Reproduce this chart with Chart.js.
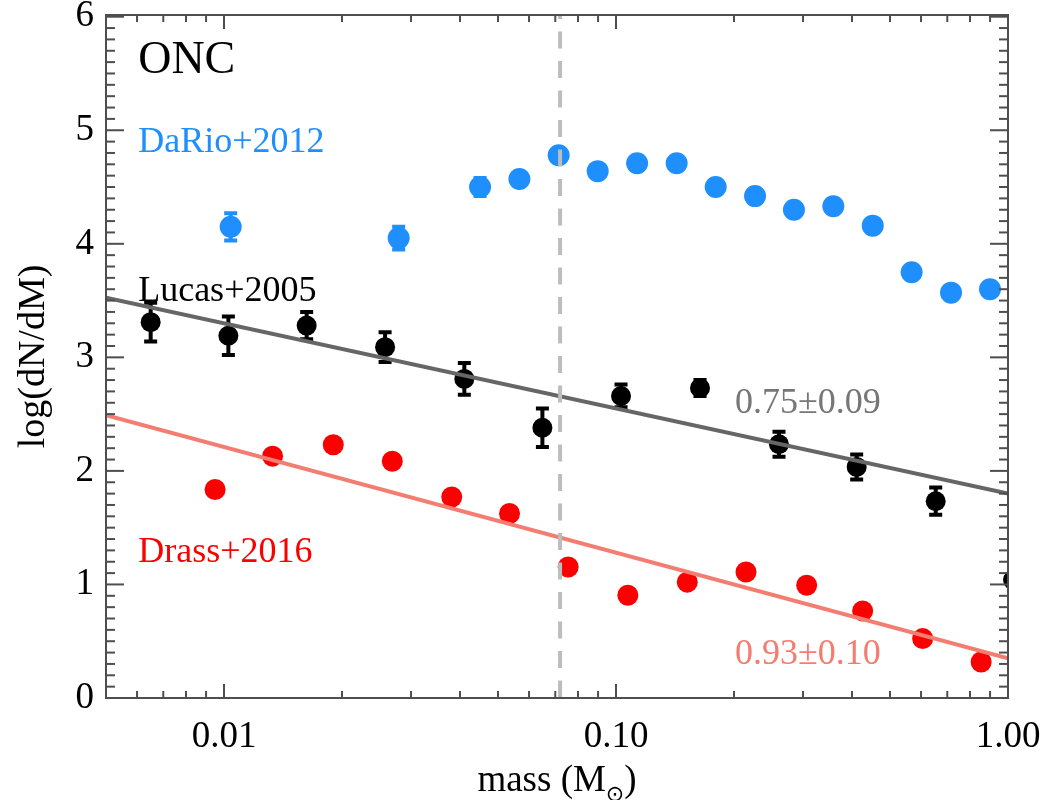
<!DOCTYPE html>
<html>
<head>
<meta charset="utf-8">
<title>ONC mass function</title>
<script src="https://cdn.jsdelivr.net/npm/chart.js@4.4.1/dist/chart.umd.min.js"></script>
<style>
  html, body { margin: 0; padding: 0; background: #fff; }
  #wrap { width: 1049px; height: 800px; }
</style>
</head>
<body>
<div id="wrap"><canvas id="imf" width="1049" height="800"></canvas></div>
<script>
// DaRio+2012
const darioMass = [0.0104, 0.0279, 0.045, 0.0567, 0.0714, 0.0898, 0.1132, 0.1428,
                   0.1796, 0.2263, 0.2844, 0.3584, 0.4518, 0.5678, 0.7156, 0.8996];
const darioLogN = [4.15, 4.05, 4.50, 4.57, 4.78, 4.64, 4.71, 4.71,
                   4.50, 4.42, 4.30, 4.33, 4.16, 3.75, 3.57, 3.60];
const darioErr  = [0.12, 0.10, 0.08, 0.05, 0.05, 0.05, 0.05, 0.05,
                   0.05, 0.05, 0.05, 0.05, 0.05, 0.05, 0.05, 0.05];

// Lucas+2005
const lucasMass = [0.0065, 0.01026, 0.01625, 0.02576, 0.04103, 0.0649,
                   0.1030, 0.1638, 0.2605, 0.4111, 0.654, 1.03];
const lucasLogN = [3.31, 3.19, 3.28, 3.09, 2.81, 2.38,
                   2.66, 2.73, 2.235, 2.035, 1.733, 1.04];
const lucasErr  = [0.17, 0.17, 0.12, 0.13, 0.14, 0.17,
                   0.10, 0.07, 0.11, 0.11, 0.12, 0.10];

// Drass+2016
const drassMass = [0.00949, 0.0133, 0.019, 0.02687, 0.0381, 0.0535, 0.0755,
                   0.1072, 0.152, 0.2146, 0.3065, 0.4258, 0.6058, 0.854];
const drassLogN = [1.836, 2.13, 2.23, 2.085, 1.77, 1.625, 1.154,
                   0.905, 1.02, 1.11, 0.993, 0.767, 0.523, 0.317];

// power-law fits: log(dN/dM) = intercept - slope * log10(M)
const fitNames      = ['Lucas+2005', 'Drass+2016'];
const fitSlopes     = [0.75, 0.93];
const fitSlopeErrs  = [0.09, 0.10];
const fitIntercepts = [1.80, 0.35];

const massRange   = [0.005, 1.0];
const logNRange   = [0, 6.015];
const hblMass     = 0.072;            // hydrogen burning limit
const xTickValues = [0.01, 0.1, 1.0];
const yTickValues = [0, 1, 2, 3, 4, 5, 6];

const SERIF = "'Liberation Serif', 'Times New Roman', serif";
const BLUE = '#1e8ffc';
const RED = '#fb0000';
const GREY_FIT = '#666666';
const SALMON = '#f37d70';
const AXIS = '#4e4e4e';

// text placed on the plot, anchored in data coordinates (left edge, baseline)
const noteTexts  = ['ONC', 'DaRio+2012', 'Lucas+2005', 'Drass+2016',
                    fitSlopes[0].toFixed(2) + '\u00b1' + fitSlopeErrs[0].toFixed(2),
                    fitSlopes[1].toFixed(2) + '\u00b1' + fitSlopeErrs[1].toFixed(2)];
const noteMass   = [0.00604, 0.00604, 0.00604, 0.00604, 0.2012, 0.2012];
const noteLogN   = [5.50, 4.81, 3.50, 1.20, 2.506, 0.297];
const noteColors = ['#000', BLUE, '#000', RED, '#777777', SALMON];
const noteSizes  = [46, 36, 36, 36, 36, 36];

const toPoints = (xs, ys) => xs.map((x, i) => ({ x: x, y: ys[i] }));

const fitLine = (i) => massRange.map(m => ({
    x: m,
    y: fitIntercepts[i] - fitSlopes[i] * Math.log10(m)
}));

/*
    Vertical error bars with caps, drawn under the markers.
*/
const errorBars = {
    id: 'errorBars',
    beforeDatasetsDraw(chart) {
        const { ctx, scales: { x, y } } = chart;
        ctx.save();
        chart.data.datasets.forEach((ds) => {
            if (!ds.errors) return;
            ctx.strokeStyle = ds.backgroundColor;
            ctx.lineWidth = 4;
            ds.data.forEach((p, i) => {
                const px = x.getPixelForValue(p.x);
                const top = y.getPixelForValue(p.y + ds.errors[i]);
                const bot = y.getPixelForValue(p.y - ds.errors[i]);
                if (px > chart.chartArea.right) return;
                ctx.beginPath();
                ctx.moveTo(px, top); ctx.lineTo(px, bot);
                ctx.moveTo(px - 6.5, top); ctx.lineTo(px + 6.5, top);
                ctx.moveTo(px - 6.5, bot); ctx.lineTo(px + 6.5, bot);
                ctx.stroke();
            });
        });
        ctx.restore();
    }
};

/*
    Dashed mass limit, box frame with inward ticks on all four sides.
*/
const frame = {
    id: 'frame',
    afterDatasetsDraw(chart) {
        const { ctx, chartArea: a, scales: { x, y } } = chart;
        ctx.save();

        const hx = x.getPixelForValue(hblMass);
        ctx.strokeStyle = '#bdbdbd';
        ctx.lineWidth = 4;
        ctx.setLineDash([17, 12.5]);
        ctx.lineDashOffset = 13;
        ctx.beginPath();
        ctx.moveTo(hx, a.top);
        ctx.lineTo(hx, a.bottom);
        ctx.stroke();
        ctx.setLineDash([]);

        ctx.strokeStyle = AXIS;
        ctx.lineWidth = 2;
        ctx.strokeRect(a.left, a.top, a.right - a.left, a.bottom - a.top);

        const seg = (x0, y0, x1, y1) => {
            ctx.beginPath(); ctx.moveTo(x0, y0); ctx.lineTo(x1, y1); ctx.stroke();
        };
        // y: major every unit, minor every tenth
        for (let i = 0; i <= 60; i++) {
            const py = y.getPixelForValue(i / 10);
            if (py < a.top || py > a.bottom) continue;
            const len = i % 10 === 0 ? 18 : 9;
            seg(a.left, py, a.left + len, py);
            seg(a.right, py, a.right - len, py);
        }
        // x: log decades
        for (let d = -3; d <= 0; d++) {
            for (let k = 1; k <= 9; k++) {
                const v = k * Math.pow(10, d);
                if (v < massRange[0] * 0.999 || v > massRange[1] * 1.001) continue;
                const px = x.getPixelForValue(v);
                const len = k === 1 ? 14 : 7;
                seg(px, a.bottom, px, a.bottom - len);
                seg(px, a.top, px, a.top + len);
            }
        }
        ctx.restore();
    }
};

/*
    Labels inside the plot plus both axis titles.
*/
const labels = {
    id: 'labels',
    afterDraw(chart) {
        const { ctx, chartArea: a, scales: { x, y } } = chart;
        ctx.save();
        ctx.textBaseline = 'alphabetic';
        ctx.textAlign = 'left';
        noteTexts.forEach((t, i) => {
            ctx.font = noteSizes[i] + 'px ' + SERIF;
            ctx.fillStyle = noteColors[i];
            ctx.fillText(t, x.getPixelForValue(noteMass[i]), y.getPixelForValue(noteLogN[i]));
        });

        // y title
        ctx.fillStyle = '#000';
        ctx.font = '38px ' + SERIF;
        ctx.save();
        ctx.translate(34, (a.top + a.bottom) / 2);
        ctx.rotate(-Math.PI / 2);
        ctx.textAlign = 'center';
        ctx.textBaseline = 'middle';
        ctx.fillText('log(dN/dM)', 0, 0);
        ctx.restore();

        // x title with subscript sun symbol
        const main = 'mass (M';
        const sub = '\u2299';
        const close = ')';
        ctx.font = '37px ' + SERIF;
        const wMain = ctx.measureText(main).width;
        const wClose = ctx.measureText(close).width;
        ctx.font = '22px DejaVu Sans';
        const wSub = ctx.measureText(sub).width;
        const total = wMain + wSub + wClose;
        let tx = (a.left + a.right) / 2 - total / 2;
        const base = 791;
        ctx.font = '37px ' + SERIF;
        ctx.fillText(main, tx, base);
        tx += wMain;
        ctx.font = '22px DejaVu Sans';
        ctx.fillText(sub, tx, base + 10);
        tx += wSub;
        ctx.font = '37px ' + SERIF;
        ctx.fillText(close, tx, base);
        ctx.restore();
    }
};

const ctx = document.getElementById('imf').getContext('2d');
new Chart(ctx, {
    type: 'scatter',
    data: {
        datasets: [
            {
                label: fitNames[0] + ' fit',
                data: fitLine(0),
                showLine: true,
                borderColor: GREY_FIT,
                borderWidth: 4,
                pointRadius: 0
            },
            {
                label: fitNames[1] + ' fit',
                data: fitLine(1),
                showLine: true,
                borderColor: SALMON,
                borderWidth: 4,
                pointRadius: 0
            },
            {
                label: 'Lucas+2005',
                data: toPoints(lucasMass, lucasLogN),
                errors: lucasErr,
                backgroundColor: '#000',
                pointRadius: 10,
                pointBorderWidth: 0
            },
            {
                label: 'Drass+2016',
                data: toPoints(drassMass, drassLogN),
                backgroundColor: RED,
                pointRadius: 10.5,
                pointBorderWidth: 0
            },
            {
                label: 'DaRio+2012',
                data: toPoints(darioMass, darioLogN),
                errors: darioErr,
                backgroundColor: BLUE,
                pointRadius: 11,
                pointBorderWidth: 0
            }
        ]
    },
    options: {
        responsive: false,
        animation: false,
        clip: 0,
        layout: { padding: { top: 15, right: 41, bottom: 0, left: 0 } },
        plugins: {
            legend: { display: false },
            tooltip: { enabled: false }
        },
        scales: {
            x: {
                type: 'logarithmic',
                min: massRange[0],
                max: massRange[1],
                afterBuildTicks: (s) => { s.ticks = xTickValues.map(v => ({ value: v, major: true })); },
                afterFit: (s) => { s.height = 102; s.paddingLeft = 0; s.paddingRight = 0; },
                grid: { display: false, drawTicks: false },
                border: { display: false },
                ticks: {
                    autoSkip: false,
                    maxRotation: 0,
                    padding: 17,
                    color: '#000',
                    font: { family: SERIF, size: 37 },
                    callback: (v) => Number(v).toFixed(2)
                }
            },
            y: {
                min: logNRange[0],
                max: logNRange[1],
                afterBuildTicks: (s) => { s.ticks = yTickValues.map(v => ({ value: v })); },
                afterFit: (s) => { s.width = 106; s.paddingTop = 0; s.paddingBottom = 0; },
                grid: { display: false, drawTicks: false },
                border: { display: false },
                ticks: {
                    padding: 12,
                    color: '#000',
                    font: { family: SERIF, size: 37 },
                    callback: (v) => String(v)
                }
            }
        }
    },
    plugins: [errorBars, frame, labels]
});
</script>
</body>
</html>
